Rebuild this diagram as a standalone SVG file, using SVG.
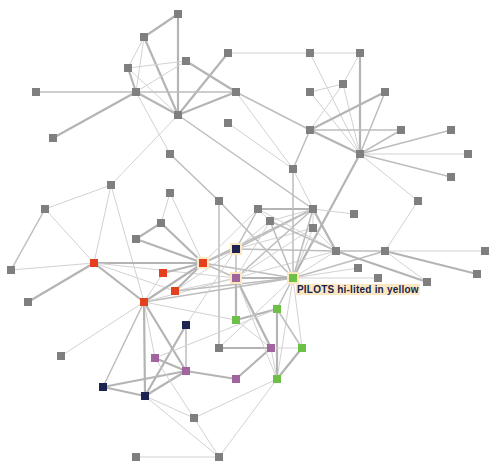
<svg xmlns="http://www.w3.org/2000/svg" width="500" height="474" viewBox="0 0 500 474">
<style>
.t{stroke:#b4b4b4;stroke-width:2.2}
.m{stroke:#bdbdbd;stroke-width:1.5}
.f{stroke:#d2d2d2;stroke-width:1}
.g{fill:#7f7f7f}
.o{fill:#e4401d}
.nv{fill:#1e2452}
.pu{fill:#a0649e}
.gr{fill:#6bc045}
.hl{fill:#fbe8c3}
.lbl{font-family:"Liberation Sans",Arial,sans-serif;font-size:10px;font-weight:bold;fill:#1a1f4a;letter-spacing:0.2px}
</style>
<rect width="500" height="474" fill="#fff"/>
<g id="edges" fill="none">
<line class="t" x1="178" y1="14" x2="144" y2="37"/>
<line class="t" x1="178" y1="14" x2="178" y2="115"/>
<line class="f" x1="144" y1="37" x2="128" y2="68"/>
<line class="f" x1="144" y1="37" x2="136" y2="92"/>
<line class="t" x1="144" y1="37" x2="178" y2="115"/>
<line class="f" x1="128" y1="68" x2="186" y2="61"/>
<line class="t" x1="128" y1="68" x2="136" y2="92"/>
<line class="f" x1="128" y1="68" x2="178" y2="115"/>
<line class="f" x1="186" y1="61" x2="136" y2="92"/>
<line class="t" x1="186" y1="61" x2="236" y2="92"/>
<line class="t" x1="228" y1="53" x2="178" y2="115"/>
<line class="f" x1="228" y1="53" x2="310" y2="53"/>
<line class="m" x1="36" y1="92" x2="136" y2="92"/>
<line class="m" x1="136" y1="92" x2="236" y2="92"/>
<line class="t" x1="136" y1="92" x2="178" y2="115"/>
<line class="t" x1="136" y1="92" x2="53" y2="138"/>
<line class="f" x1="136" y1="92" x2="170" y2="154"/>
<line class="t" x1="236" y1="92" x2="178" y2="115"/>
<line class="m" x1="236" y1="92" x2="310" y2="130"/>
<line class="f" x1="236" y1="92" x2="293" y2="169"/>
<line class="f" x1="228" y1="123" x2="293" y2="169"/>
<line class="m" x1="178" y1="115" x2="313" y2="209"/>
<line class="f" x1="178" y1="115" x2="111" y2="185"/>
<line class="m" x1="170" y1="154" x2="219" y2="201"/>
<line class="m" x1="310" y1="130" x2="293" y2="169"/>
<line class="f" x1="310" y1="53" x2="360" y2="53"/>
<line class="f" x1="310" y1="53" x2="360" y2="154"/>
<line class="t" x1="360" y1="53" x2="360" y2="154"/>
<line class="f" x1="360" y1="53" x2="343" y2="84"/>
<line class="f" x1="343" y1="84" x2="310" y2="130"/>
<line class="f" x1="343" y1="84" x2="360" y2="154"/>
<line class="f" x1="310" y1="92" x2="343" y2="84"/>
<line class="f" x1="310" y1="92" x2="360" y2="154"/>
<line class="t" x1="385" y1="92" x2="310" y2="130"/>
<line class="m" x1="385" y1="92" x2="360" y2="154"/>
<line class="m" x1="310" y1="130" x2="401" y2="130"/>
<line class="t" x1="310" y1="130" x2="360" y2="154"/>
<line class="m" x1="401" y1="130" x2="360" y2="154"/>
<line class="m" x1="451" y1="130" x2="360" y2="154"/>
<line class="f" x1="360" y1="154" x2="468" y2="154"/>
<line class="f" x1="360" y1="154" x2="418" y2="201"/>
<line class="m" x1="360" y1="154" x2="451" y2="177"/>
<line class="t" x1="360" y1="154" x2="293" y2="278"/>
<line class="f" x1="418" y1="201" x2="385" y2="251"/>
<line class="f" x1="111" y1="185" x2="45" y2="209"/>
<line class="f" x1="111" y1="185" x2="94" y2="263"/>
<line class="f" x1="111" y1="185" x2="144" y2="302"/>
<line class="m" x1="45" y1="209" x2="11" y2="270"/>
<line class="f" x1="45" y1="209" x2="94" y2="263"/>
<line class="f" x1="94" y1="263" x2="11" y2="270"/>
<line class="t" x1="94" y1="263" x2="28" y2="302"/>
<line class="t" x1="94" y1="263" x2="203" y2="263"/>
<line class="t" x1="94" y1="263" x2="144" y2="302"/>
<line class="f" x1="94" y1="263" x2="175" y2="291"/>
<line class="f" x1="94" y1="263" x2="236" y2="278"/>
<line class="f" x1="170" y1="193" x2="161" y2="223"/>
<line class="f" x1="170" y1="193" x2="203" y2="263"/>
<line class="t" x1="161" y1="223" x2="136" y2="239"/>
<line class="t" x1="161" y1="223" x2="203" y2="263"/>
<line class="t" x1="136" y1="239" x2="203" y2="263"/>
<line class="t" x1="203" y1="263" x2="163" y2="273"/>
<line class="t" x1="203" y1="263" x2="175" y2="291"/>
<line class="t" x1="203" y1="263" x2="144" y2="302"/>
<line class="f" x1="163" y1="273" x2="144" y2="302"/>
<line class="m" x1="144" y1="302" x2="103" y2="387"/>
<line class="t" x1="144" y1="302" x2="145" y2="396"/>
<line class="f" x1="144" y1="302" x2="155" y2="358"/>
<line class="t" x1="144" y1="302" x2="186" y2="371"/>
<line class="f" x1="61" y1="356" x2="144" y2="302"/>
<line class="m" x1="144" y1="302" x2="293" y2="278"/>
<line class="f" x1="144" y1="302" x2="236" y2="278"/>
<line class="m" x1="175" y1="291" x2="293" y2="278"/>
<line class="f" x1="175" y1="291" x2="236" y2="249"/>
<line class="f" x1="175" y1="291" x2="236" y2="278"/>
<line class="m" x1="219" y1="201" x2="219" y2="348"/>
<line class="m" x1="219" y1="201" x2="293" y2="278"/>
<line class="m" x1="236" y1="249" x2="236" y2="278"/>
<line class="t" x1="236" y1="278" x2="236" y2="320"/>
<line class="m" x1="203" y1="263" x2="236" y2="249"/>
<line class="m" x1="203" y1="263" x2="236" y2="278"/>
<line class="m" x1="203" y1="263" x2="293" y2="278"/>
<line class="f" x1="203" y1="263" x2="258" y2="209"/>
<line class="m" x1="203" y1="263" x2="313" y2="209"/>
<line class="m" x1="236" y1="249" x2="258" y2="209"/>
<line class="f" x1="236" y1="249" x2="270" y2="221"/>
<line class="m" x1="236" y1="249" x2="313" y2="209"/>
<line class="f" x1="236" y1="249" x2="313" y2="228"/>
<line class="m" x1="236" y1="249" x2="336" y2="251"/>
<line class="m" x1="336" y1="251" x2="385" y2="251"/>
<line class="m" x1="236" y1="278" x2="313" y2="209"/>
<line class="f" x1="236" y1="278" x2="270" y2="221"/>
<line class="t" x1="236" y1="278" x2="293" y2="278"/>
<line class="f" x1="236" y1="278" x2="313" y2="228"/>
<line class="f" x1="236" y1="278" x2="336" y2="251"/>
<line class="t" x1="258" y1="209" x2="313" y2="209"/>
<line class="f" x1="258" y1="209" x2="270" y2="221"/>
<line class="f" x1="258" y1="209" x2="336" y2="251"/>
<line class="f" x1="270" y1="221" x2="313" y2="209"/>
<line class="m" x1="270" y1="221" x2="336" y2="251"/>
<line class="m" x1="270" y1="221" x2="293" y2="278"/>
<line class="f" x1="313" y1="209" x2="354" y2="214"/>
<line class="t" x1="313" y1="209" x2="336" y2="251"/>
<line class="f" x1="313" y1="209" x2="313" y2="228"/>
<line class="f" x1="313" y1="228" x2="336" y2="251"/>
<line class="m" x1="293" y1="169" x2="293" y2="278"/>
<line class="f" x1="293" y1="169" x2="313" y2="209"/>
<line class="f" x1="313" y1="228" x2="293" y2="278"/>
<line class="m" x1="313" y1="209" x2="293" y2="278"/>
<line class="m" x1="293" y1="278" x2="385" y2="251"/>
<line class="f" x1="293" y1="278" x2="358" y2="268"/>
<line class="f" x1="293" y1="278" x2="378" y2="278"/>
<line class="f" x1="293" y1="278" x2="336" y2="251"/>
<line class="m" x1="293" y1="278" x2="277" y2="309"/>
<line class="f" x1="293" y1="278" x2="302" y2="348"/>
<line class="f" x1="293" y1="278" x2="277" y2="379"/>
<line class="t" x1="336" y1="251" x2="427" y2="282"/>
<line class="t" x1="385" y1="251" x2="477" y2="274"/>
<line class="f" x1="385" y1="251" x2="485" y2="251"/>
<line class="f" x1="385" y1="251" x2="427" y2="282"/>
<line class="m" x1="186" y1="325" x2="186" y2="371"/>
<line class="t" x1="186" y1="325" x2="145" y2="396"/>
<line class="f" x1="186" y1="325" x2="236" y2="249"/>
<line class="t" x1="236" y1="278" x2="271" y2="348"/>
<line class="t" x1="236" y1="320" x2="277" y2="309"/>
<line class="t" x1="277" y1="309" x2="277" y2="379"/>
<line class="m" x1="277" y1="309" x2="302" y2="348"/>
<line class="t" x1="302" y1="348" x2="277" y2="379"/>
<line class="f" x1="271" y1="348" x2="302" y2="348"/>
<line class="t" x1="219" y1="348" x2="271" y2="348"/>
<line class="t" x1="186" y1="371" x2="236" y2="379"/>
<line class="t" x1="236" y1="379" x2="271" y2="348"/>
<line class="t" x1="103" y1="387" x2="145" y2="396"/>
<line class="t" x1="103" y1="387" x2="186" y2="371"/>
<line class="t" x1="145" y1="396" x2="186" y2="371"/>
<line class="t" x1="155" y1="358" x2="186" y2="371"/>
<line class="f" x1="155" y1="358" x2="194" y2="418"/>
<line class="f" x1="155" y1="358" x2="277" y2="309"/>
<line class="f" x1="145" y1="396" x2="194" y2="418"/>
<line class="f" x1="145" y1="396" x2="219" y2="457"/>
<line class="f" x1="194" y1="418" x2="219" y2="457"/>
<line class="f" x1="194" y1="418" x2="277" y2="379"/>
<line class="f" x1="136" y1="457" x2="219" y2="457"/>
<line class="f" x1="219" y1="457" x2="277" y2="379"/>
<line class="f" x1="277" y1="379" x2="271" y2="348"/>
<line class="f" x1="236" y1="278" x2="277" y2="379"/>
<line class="f" x1="236" y1="320" x2="271" y2="348"/>
<line class="f" x1="219" y1="348" x2="293" y2="278"/>
<line class="f" x1="144" y1="302" x2="236" y2="320"/>
</g>
<g id="nA"><rect class="g" x="174" y="10" width="8" height="8"/></g>
<g id="nB"><rect class="g" x="140" y="33" width="8" height="8"/></g>
<g id="nC"><rect class="g" x="124" y="64" width="8" height="8"/></g>
<g id="nD"><rect class="g" x="182" y="57" width="8" height="8"/></g>
<g id="nE"><rect class="g" x="224" y="49" width="8" height="8"/></g>
<g id="nF"><rect class="g" x="32" y="88" width="8" height="8"/></g>
<g id="nG"><rect class="g" x="132" y="88" width="8" height="8"/></g>
<g id="nH"><rect class="g" x="232" y="88" width="8" height="8"/></g>
<g id="nI"><rect class="g" x="174" y="111" width="8" height="8"/></g>
<g id="nJ"><rect class="g" x="224" y="119" width="8" height="8"/></g>
<g id="nK"><rect class="g" x="49" y="134" width="8" height="8"/></g>
<g id="nL"><rect class="g" x="166" y="150" width="8" height="8"/></g>
<g id="nM"><rect class="g" x="306" y="49" width="8" height="8"/></g>
<g id="nN"><rect class="g" x="356" y="49" width="8" height="8"/></g>
<g id="nO"><rect class="g" x="339" y="80" width="8" height="8"/></g>
<g id="nP"><rect class="g" x="306" y="88" width="8" height="8"/></g>
<g id="nQ"><rect class="g" x="381" y="88" width="8" height="8"/></g>
<g id="nR"><rect class="g" x="306" y="126" width="8" height="8"/></g>
<g id="nS"><rect class="g" x="397" y="126" width="8" height="8"/></g>
<g id="nT"><rect class="g" x="447" y="126" width="8" height="8"/></g>
<g id="nU"><rect class="g" x="356" y="150" width="8" height="8"/></g>
<g id="nV"><rect class="g" x="464" y="150" width="8" height="8"/></g>
<g id="nW"><rect class="g" x="107" y="181" width="8" height="8"/></g>
<g id="nX"><rect class="g" x="41" y="205" width="8" height="8"/></g>
<g id="nY"><rect class="g" x="166" y="189" width="8" height="8"/></g>
<g id="nZ"><rect class="g" x="215" y="197" width="8" height="8"/></g>
<g id="na"><rect class="g" x="157" y="219" width="8" height="8"/></g>
<g id="nb"><rect class="g" x="132" y="235" width="8" height="8"/></g>
<g id="nc"><rect class="hl" x="230" y="243" width="12" height="12"/><rect class="nv" x="232" y="245" width="8" height="8"/></g>
<g id="nd"><rect class="o" x="90" y="259" width="8" height="8"/></g>
<g id="ne"><rect class="hl" x="197" y="257" width="12" height="12"/><rect class="o" x="199" y="259" width="8" height="8"/></g>
<g id="nf"><rect class="g" x="7" y="266" width="8" height="8"/></g>
<g id="ng"><rect class="o" x="159" y="269" width="8" height="8"/></g>
<g id="nh"><rect class="hl" x="230" y="272" width="12" height="12"/><rect class="pu" x="232" y="274" width="8" height="8"/></g>
<g id="ni"><rect class="o" x="171" y="287" width="8" height="8"/></g>
<g id="nj"><rect class="o" x="140" y="298" width="8" height="8"/></g>
<g id="nk"><rect class="g" x="24" y="298" width="8" height="8"/></g>
<g id="nl"><rect class="g" x="289" y="165" width="8" height="8"/></g>
<g id="nm"><rect class="g" x="447" y="173" width="8" height="8"/></g>
<g id="nn"><rect class="g" x="414" y="197" width="8" height="8"/></g>
<g id="no"><rect class="g" x="254" y="205" width="8" height="8"/></g>
<g id="np"><rect class="g" x="309" y="205" width="8" height="8"/></g>
<g id="nq"><rect class="g" x="350" y="210" width="8" height="8"/></g>
<g id="nr"><rect class="g" x="266" y="217" width="8" height="8"/></g>
<g id="ns"><rect class="g" x="309" y="224" width="8" height="8"/></g>
<g id="nt"><rect class="g" x="332" y="247" width="8" height="8"/></g>
<g id="nu"><rect class="g" x="381" y="247" width="8" height="8"/></g>
<g id="nv"><rect class="g" x="481" y="247" width="8" height="8"/></g>
<g id="nw"><rect class="g" x="354" y="264" width="8" height="8"/></g>
<g id="nx"><rect class="g" x="473" y="270" width="8" height="8"/></g>
<g id="ny"><rect class="g" x="374" y="274" width="8" height="8"/></g>
<g id="nz"><rect class="g" x="423" y="278" width="8" height="8"/></g>
<g id="ng1"><rect class="hl" x="287" y="272" width="12" height="12"/><rect class="gr" x="289" y="274" width="8" height="8"/></g>
<g id="ng2"><rect class="gr" x="273" y="305" width="8" height="8"/></g>
<g id="ng3"><rect class="gr" x="232" y="316" width="8" height="8"/></g>
<g id="nnv2"><rect class="nv" x="182" y="321" width="8" height="8"/></g>
<g id="ng57"><rect class="g" x="57" y="352" width="8" height="8"/></g>
<g id="ngy2"><rect class="g" x="215" y="344" width="8" height="8"/></g>
<g id="npu59"><rect class="pu" x="151" y="354" width="8" height="8"/></g>
<g id="npu60"><rect class="pu" x="182" y="367" width="8" height="8"/></g>
<g id="npu61"><rect class="pu" x="232" y="375" width="8" height="8"/></g>
<g id="nnv62"><rect class="nv" x="99" y="383" width="8" height="8"/></g>
<g id="nnv63"><rect class="nv" x="141" y="392" width="8" height="8"/></g>
<g id="ng64"><rect class="g" x="190" y="414" width="8" height="8"/></g>
<g id="ng65"><rect class="g" x="132" y="453" width="8" height="8"/></g>
<g id="ng66"><rect class="g" x="215" y="453" width="8" height="8"/></g>
<g id="npu67"><rect class="pu" x="267" y="344" width="8" height="8"/></g>
<g id="ngr68"><rect class="gr" x="298" y="344" width="8" height="8"/></g>
<g id="ngr69"><rect class="gr" x="273" y="375" width="8" height="8"/></g>
<g id="label"><rect class="hl" x="296" y="284" width="124" height="11"/><text class="lbl" x="297" y="292.5">PILOTS hi-lited in yellow</text></g>
</svg>
